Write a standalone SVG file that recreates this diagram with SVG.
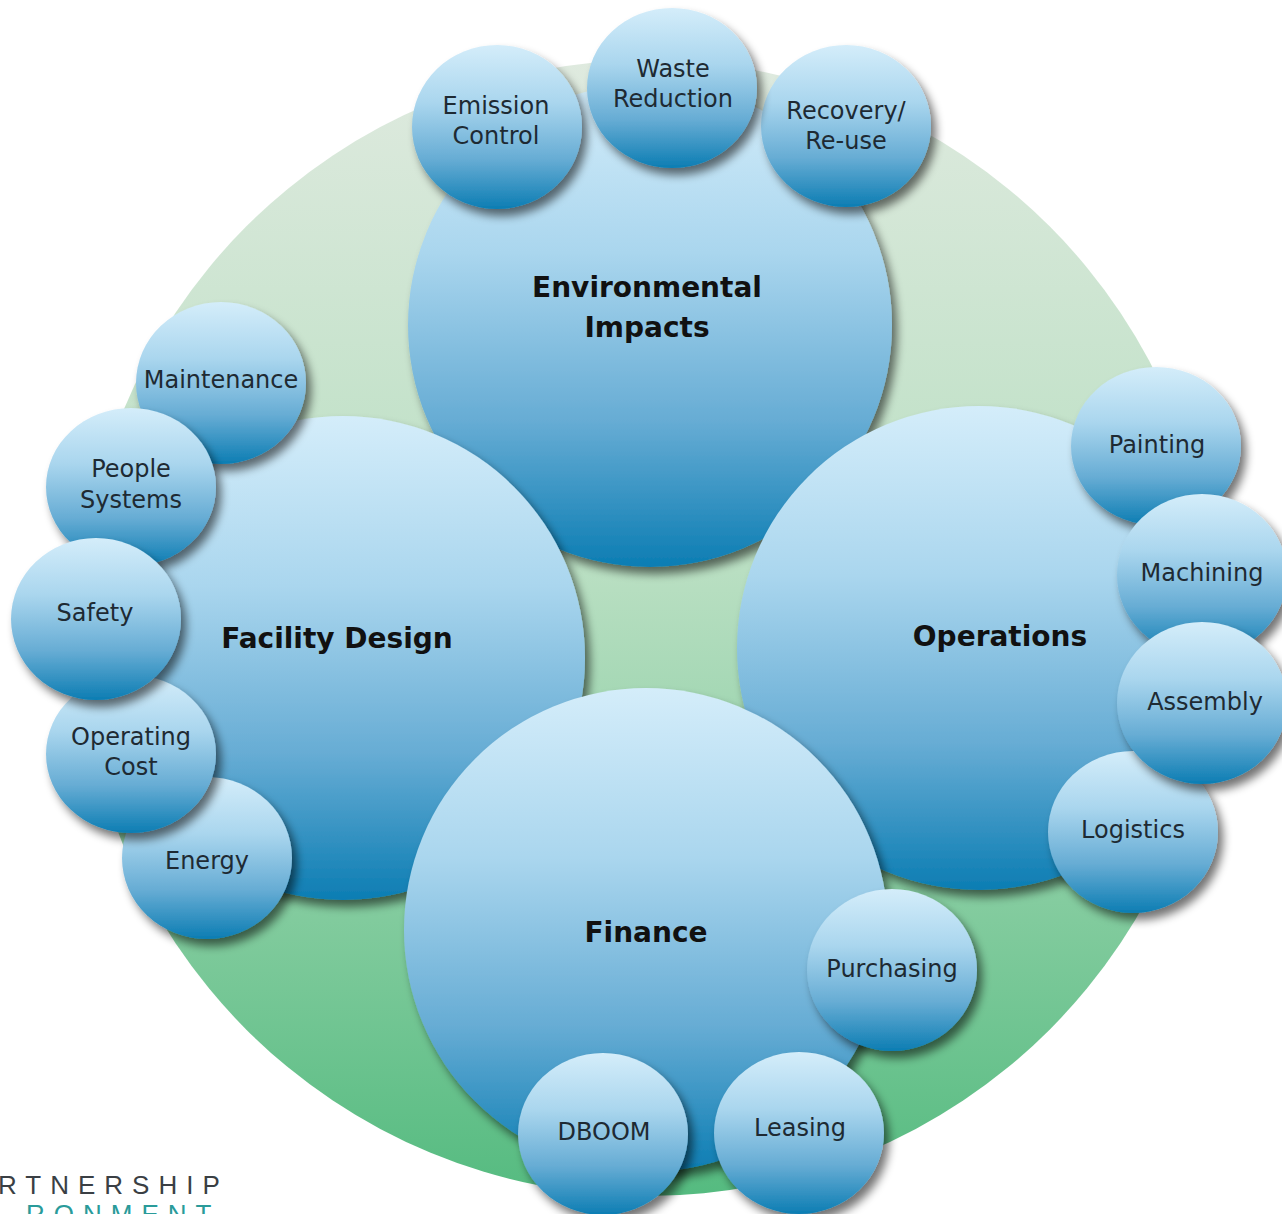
<svg xmlns="http://www.w3.org/2000/svg" width="1282" height="1214" viewBox="0 0 1282 1214">
<defs>
<linearGradient id="gGreen" x1="0" y1="0" x2="0" y2="1">
<stop offset="0" stop-color="#dfeadf"/>
<stop offset="0.45" stop-color="#b9dfc2"/>
<stop offset="1" stop-color="#55bb80"/>
</linearGradient>
<linearGradient id="gBlue" x1="0" y1="0" x2="0" y2="1">
<stop offset="0" stop-color="#d4edfa"/>
<stop offset="0.35" stop-color="#aad6ee"/>
<stop offset="0.7" stop-color="#66acd4"/>
<stop offset="1" stop-color="#0c7db3"/>
</linearGradient>
<filter id="shadow" x="-20%" y="-20%" width="150%" height="150%">
<feGaussianBlur in="SourceAlpha" stdDeviation="5"/>
<feOffset dx="5" dy="7" result="b"/>
<feComponentTransfer><feFuncA type="linear" slope="0.55"/></feComponentTransfer>
<feMerge><feMergeNode/><feMergeNode in="SourceGraphic"/></feMerge>
</filter>
</defs>
<style>
.big{fill:url(#gBlue);filter:url(#shadow)}
.sm{fill:url(#gBlue);filter:url(#shadow)}
.t{font-family:"DejaVu Sans","Liberation Sans",sans-serif;font-size:24px;fill:#1e2a33;text-anchor:middle}
.tb{font-family:"DejaVu Sans","Liberation Sans",sans-serif;font-size:28px;font-weight:bold;fill:#111;text-anchor:middle}
.logo{font-family:"Liberation Sans","DejaVu Sans",sans-serif;font-size:26px;letter-spacing:9px}
</style>
<rect width="1282" height="1214" fill="#ffffff"/>
<circle id="backdrop" cx="648" cy="628" r="568" fill="url(#gGreen)"/>
<g id="connectors"/>
<g id="environmental-impacts">
<ellipse class="big" cx="650" cy="325" rx="242" ry="242"/>
<text class="tb" x="647" y="297">Environmental</text>
<text class="tb" x="647" y="337">Impacts</text>
</g>
<g id="facility-design">
<ellipse class="big" cx="343" cy="658" rx="242" ry="242"/>
<text class="tb" x="337" y="648">Facility Design</text>
</g>
<g id="operations">
<ellipse class="big" cx="979" cy="648" rx="242" ry="242"/>
<text class="tb" x="1000" y="646">Operations</text>
</g>
<g id="finance">
<ellipse class="big" cx="646" cy="930" rx="242" ry="242"/>
<text class="tb" x="646" y="942">Finance</text>
</g>
<g id="emission-control">
<ellipse class="sm" cx="497" cy="127" rx="85" ry="82"/>
<text class="t" x="496" y="114">Emission</text>
<text class="t" x="496" y="144">Control</text>
</g>
<g id="recovery-reuse">
<ellipse class="sm" cx="846" cy="126" rx="85" ry="81"/>
<text class="t" x="846" y="119">Recovery/</text>
<text class="t" x="846" y="149">Re-use</text>
</g>
<g id="waste-reduction">
<ellipse class="sm" cx="672" cy="88" rx="85" ry="80"/>
<text class="t" x="673" y="77">Waste</text>
<text class="t" x="673" y="107">Reduction</text>
</g>
<g id="energy">
<ellipse class="sm" cx="207" cy="858" rx="85" ry="81"/>
<text class="t" x="207" y="869">Energy</text>
</g>
<g id="operating-cost">
<ellipse class="sm" cx="131" cy="754" rx="85" ry="79"/>
<text class="t" x="131" y="745">Operating</text>
<text class="t" x="131" y="775">Cost</text>
</g>
<g id="maintenance">
<ellipse class="sm" cx="221" cy="383" rx="85" ry="81"/>
<text class="t" x="221" y="388">Maintenance</text>
</g>
<g id="people-systems">
<ellipse class="sm" cx="131" cy="487" rx="85" ry="79"/>
<text class="t" x="131" y="477">People</text>
<text class="t" x="131" y="508">Systems</text>
</g>
<g id="safety">
<ellipse class="sm" cx="96" cy="619" rx="85" ry="81"/>
<text class="t" x="95" y="621">Safety</text>
</g>
<g id="painting">
<ellipse class="sm" cx="1156" cy="446" rx="85" ry="79"/>
<text class="t" x="1157" y="453">Painting</text>
</g>
<g id="logistics">
<ellipse class="sm" cx="1133" cy="832" rx="85" ry="81"/>
<text class="t" x="1133" y="838">Logistics</text>
</g>
<g id="machining">
<ellipse class="sm" cx="1202" cy="575" rx="85" ry="81"/>
<text class="t" x="1202" y="581">Machining</text>
</g>
<g id="assembly">
<ellipse class="sm" cx="1202" cy="703" rx="85" ry="81"/>
<text class="t" x="1205" y="710">Assembly</text>
</g>
<g id="purchasing">
<ellipse class="sm" cx="892" cy="970" rx="85" ry="81"/>
<text class="t" x="892" y="977">Purchasing</text>
</g>
<g id="dboom">
<ellipse class="sm" cx="603" cy="1134" rx="85" ry="81"/>
<text class="t" x="604" y="1140">DBOOM</text>
</g>
<g id="leasing">
<ellipse class="sm" cx="799" cy="1133" rx="85" ry="81"/>
<text class="t" x="800" y="1136">Leasing</text>
</g>
<g id="logo">
<text class="logo" x="-2" y="1194" fill="#3a3f44">RTNERSHIP</text>
<text class="logo" x="26" y="1223" fill="#2a9b9a">RONMENT</text>
</g>
</svg>
